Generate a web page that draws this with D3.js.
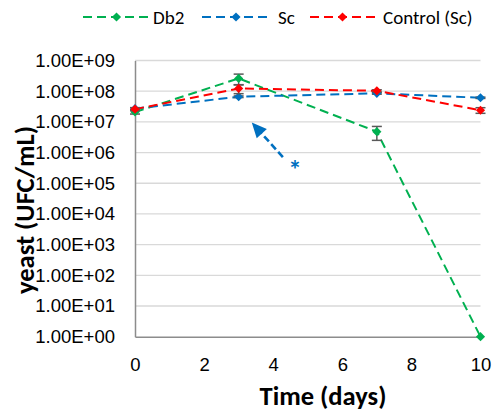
<!DOCTYPE html>
<html>
<head>
<meta charset="utf-8">
<script src="https://cdn.jsdelivr.net/npm/d3@7"></script>
<style>
  html, body { margin: 0; padding: 0; background: #fff; }
  svg { display: block; font-family: Carlito, Calibri, Lato, sans-serif; }
</style>
</head>
<body>
<svg id="chart" width="493" height="417"></svg>
<script>
// Sampling days
const days = [0, 3, 7, 10];

// Yeast counts (UFC/mL) per strain
const db2 = [2.1e7, 2.6e8, 4.8e6, 1];
const sc = [2.7e7, 6.6e7, 8.5e7, 6.1e7];
const control = [2.6e7, 1.23e8, 1.03e8, 2.4e7];

// Standard deviations
const db2Err = [3e6, 1.0e8, 2.3e6, 0];
const scErr = [2e6, 4e6, 5e6, 3e6];
const controlErr = [3e6, 0.4e8, 8e6, 0.5e7];

// Axis ticks
const xTicks = [0, 2, 4, 6, 8, 10];
const yTicks = [1e0, 1e1, 1e2, 1e3, 1e4, 1e5, 1e6, 1e7, 1e8, 1e9];

const seriesNames = ["Db2", "Sc", "Control (Sc)"];
const seriesColors = ["#00B050", "#0070C0", "#FF0000"];

// Annotation arrow (data coordinates): tail -> tip, and the asterisk
const arrowTail = [4.28, 7.1e5];
const arrowTip = [3.38, 9.6e6];
const starPos = [4.63, 3.9e5];

const series = [
  { name: seriesNames[0], color: seriesColors[0], values: db2, err: db2Err },
  { name: seriesNames[1], color: seriesColors[1], values: sc, err: scErr },
  { name: seriesNames[2], color: seriesColors[2], values: control, err: controlErr }
];

const svg = d3.select("#chart");
const x = d3.scaleLinear().domain([0, 10]).range([135, 480.5]);
const y = d3.scaleLog().domain([1, 1e9]).range([336.7, 60.5]);

const fmtE = v => {
  const e = Math.round(Math.log10(v));
  return "1.00E+" + String(e).padStart(2, "0");
};

// Gridlines
svg.append("g").selectAll("line").data(yTicks.filter(v => v > 1)).join("line")
  .attr("x1", x(0)).attr("x2", x(10))
  .attr("y1", d => y(d)).attr("y2", d => y(d))
  .attr("stroke", "#d9d9d9").attr("stroke-width", 1.3);

// Axes
const yAxis = svg.append("g").attr("transform", `translate(${x(0)},0)`)
  .call(d3.axisLeft(y).tickValues(yTicks).tickFormat(fmtE).tickSize(0).tickPadding(20));
yAxis.select(".domain").attr("stroke", "#8c8c8c").attr("stroke-width", 1.5);
yAxis.selectAll("text").attr("font-size", 18.5).attr("fill", "#000");

const xAxis = svg.append("g").attr("transform", `translate(0,${y(1)})`)
  .call(d3.axisBottom(x).tickValues(xTicks).tickFormat(d3.format("d")).tickSize(0).tickPadding(21));
xAxis.select(".domain").attr("stroke", "#8c8c8c").attr("stroke-width", 1.5);
xAxis.selectAll("text").attr("font-size", 18.5).attr("fill", "#000");

// Axis titles
svg.append("text")
  .attr("x", 323).attr("y", 405)
  .attr("text-anchor", "middle")
  .attr("font-size", 26.5).attr("font-weight", "bold")
  .text("Time (days)");

svg.append("text")
  .attr("transform", "translate(34,210) rotate(-90)")
  .attr("text-anchor", "middle")
  .attr("font-size", 26.5).attr("font-weight", "bold")
  .text("yeast (UFC/mL)");

const diamond = d3.symbol(d3.symbolSquare, 42);
const line = d3.line().x((d, i) => x(days[i])).y(d => y(d));

series.forEach(s => {
  const g = svg.append("g");
  g.append("path")
    .attr("d", line(s.values))
    .attr("fill", "none")
    .attr("stroke", s.color)
    .attr("stroke-width", 2)
    .attr("stroke-dasharray", "9,5");

  const eb = g.append("g").selectAll("g")
    .data(s.values.map((v, i) => ({ x: days[i], v, e: s.err[i] })).filter(d => d.e > 0))
    .join("g")
    .attr("stroke", "#595959").attr("stroke-width", 1.5);
  eb.append("line")
    .attr("x1", d => x(d.x)).attr("x2", d => x(d.x))
    .attr("y1", d => y(d.v + d.e)).attr("y2", d => y(Math.max(d.v - d.e, 1)));
  eb.append("line")
    .attr("x1", d => x(d.x) - 5).attr("x2", d => x(d.x) + 5)
    .attr("y1", d => y(d.v + d.e)).attr("y2", d => y(d.v + d.e));
  eb.append("line")
    .attr("x1", d => x(d.x) - 5).attr("x2", d => x(d.x) + 5)
    .attr("y1", d => y(Math.max(d.v - d.e, 1))).attr("y2", d => y(Math.max(d.v - d.e, 1)));

  g.append("g").selectAll("path").data(s.values).join("path")
    .attr("d", diamond)
    .attr("transform", (d, i) => `translate(${x(days[i])},${y(d)}) rotate(45)`)
    .attr("fill", s.color);
});

// Annotation arrow
const tail = [x(arrowTail[0]), y(arrowTail[1])];
const tip = [x(arrowTip[0]), y(arrowTip[1])];
const dx = tip[0] - tail[0], dy = tip[1] - tail[1];
const len = Math.hypot(dx, dy);
const ux = dx / len, uy = dy / len;
const headLen = 15, headHalf = 6.8;
const base = [tip[0] - ux * headLen, tip[1] - uy * headLen];
svg.append("line")
  .attr("x1", tail[0]).attr("y1", tail[1])
  .attr("x2", base[0] + ux * 2).attr("y2", base[1] + uy * 2)
  .attr("stroke", "#0070C0").attr("stroke-width", 2.6)
  .attr("stroke-dasharray", "7,3.5");
svg.append("path")
  .attr("d", `M${tip[0]},${tip[1]}L${base[0] - uy * headHalf},${base[1] + ux * headHalf}L${base[0] + uy * headHalf},${base[1] - ux * headHalf}Z`)
  .attr("fill", "#0070C0");
svg.append("text")
  .attr("x", x(starPos[0])).attr("y", y(starPos[1]) + 14)
  .attr("text-anchor", "middle")
  .attr("font-size", 27).attr("font-weight", "bold")
  .attr("fill", "#0070C0")
  .text("*");

// Legend
const legendItems = [
  { x0: 83, x1: 150, text: 153 },
  { x0: 202, x1: 270, text: 278 },
  { x0: 310, x1: 375, text: 383 }
];
const lg = svg.append("g");
series.forEach((s, i) => {
  const it = legendItems[i];
  lg.append("line")
    .attr("x1", it.x0).attr("x2", it.x1).attr("y1", 17).attr("y2", 17)
    .attr("stroke", s.color).attr("stroke-width", 2)
    .attr("stroke-dasharray", "9,5");
  lg.append("path")
    .attr("d", diamond)
    .attr("transform", `translate(${(it.x0 + it.x1) / 2},17) rotate(45)`)
    .attr("fill", s.color);
  lg.append("text")
    .attr("x", it.text).attr("y", 17)
    .attr("dy", "0.35em")
    .attr("font-size", 19)
    .text(s.name);
});
</script>
</body>
</html>
